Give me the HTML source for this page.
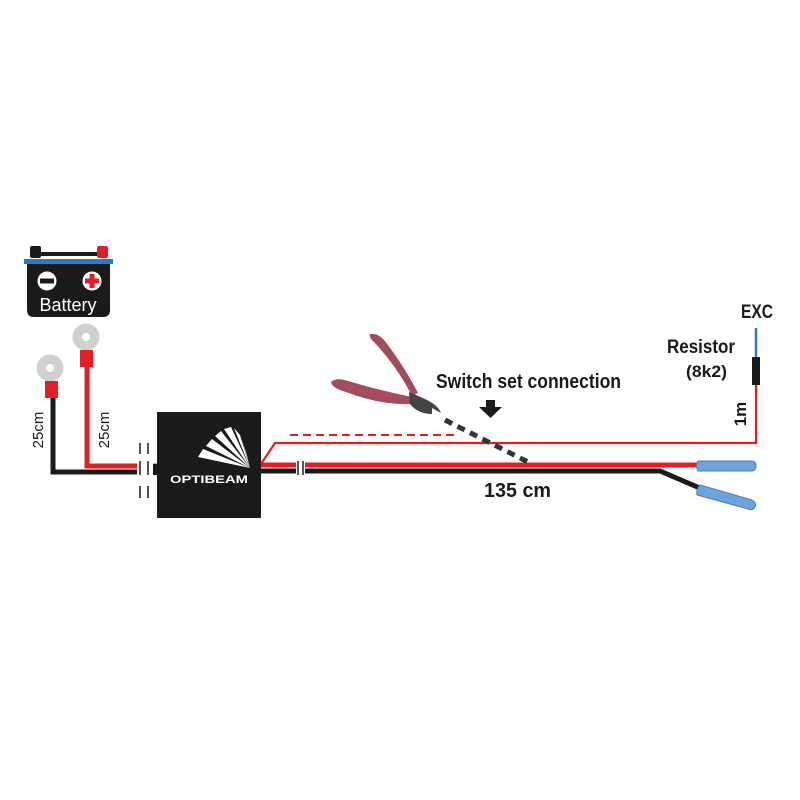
<!DOCTYPE html>
<html><head><meta charset="utf-8"><style>
html,body{margin:0;padding:0;background:#fff;width:800px;height:800px;overflow:hidden}
svg{display:block}
.n{font-family:"Liberation Sans",sans-serif;font-weight:bold;fill:#1a1a1a}
</style></head><body>
<svg width="800" height="800" viewBox="0 0 800 800">
<!-- Battery -->
<rect x="30" y="246" width="11" height="12" rx="2" fill="#1a1a1a"/>
<rect x="97" y="246" width="11" height="12" rx="2" fill="#e31e24"/>
<rect x="41" y="252" width="56" height="4" fill="#1a1a1a"/>
<rect x="24" y="259" width="89" height="5" fill="#2a7bc0"/>
<path d="M27 264 H110 V310 Q110 317 103 317 H34 Q27 317 27 310 Z" fill="#1a1a1a"/>
<circle cx="47" cy="281" r="9.5" fill="#fff"/><rect x="40" y="278.5" width="14" height="5" fill="#1a1a1a"/>
<circle cx="92" cy="281" r="9.5" fill="#fff"/><rect x="85" y="278.5" width="14" height="5" fill="#e31e24"/><rect x="89.5" y="274" width="5" height="14" fill="#e31e24"/>
<text x="68" y="311" text-anchor="middle" font-family="Liberation Sans,sans-serif" font-size="18" fill="#fff">Battery</text>
<!-- ring terminals -->
<circle cx="50" cy="368" r="13.5" fill="#d0d0d0"/><circle cx="50" cy="368" r="4" fill="#fff"/>
<rect x="45" y="381" width="13" height="17" fill="#e31e24"/>
<circle cx="86" cy="337" r="13.5" fill="#d0d0d0"/><circle cx="86" cy="337" r="4" fill="#fff"/>
<rect x="80" y="350" width="13" height="17" fill="#e31e24"/>
<!-- left wires -->
<path d="M53 398 V472 H140" stroke="#1a1a1a" stroke-width="5" fill="none"/>
<path d="M87 367 V466 H157" stroke="#e31e24" stroke-width="5" fill="none"/>
<rect x="148" y="464" width="9" height="11" fill="#1a1a1a"/>
<rect x="137" y="440" width="16" height="63" fill="#fff"/>
<g fill="#555"><rect x="139" y="443" width="2" height="11"/><rect x="147" y="443" width="2" height="11"/>
<rect x="139" y="461" width="2" height="14"/><rect x="147" y="461" width="2" height="14"/>
<rect x="139" y="486" width="2" height="12"/><rect x="147" y="486" width="2" height="12"/></g>
<!-- box -->
<rect x="157" y="412" width="104" height="106" fill="#1a1a1a"/>
<g fill="#fff">
<polygon points="250,468 198,457 203,449"/><polygon points="250,468 206,446 212,439"/>
<polygon points="250,468 215,436 221,431"/><polygon points="250,468 224,429 231,427"/>
<polygon points="250,468 234,428 240,435"/><polygon points="250,468 242,440 246,452"/>
</g>
<text x="209" y="483" text-anchor="middle" font-family="Liberation Sans,sans-serif" font-weight="bold" font-size="11" fill="#fff" textLength="78" lengthAdjust="spacingAndGlyphs">OPTIBEAM</text>
<!-- right wires -->
<path d="M261 464 L275 443 H756 V385" stroke="#e31e24" stroke-width="2.2" fill="none"/>
<line x1="290" y1="435" x2="455" y2="435" stroke="#e31e24" stroke-width="2" stroke-dasharray="8,5"/>
<line x1="261" y1="465" x2="702" y2="465" stroke="#e31e24" stroke-width="5"/>
<path d="M261 471 H660 L702 489" stroke="#1a1a1a" stroke-width="5" fill="none"/>
<rect x="296" y="458" width="9" height="19" fill="#fff"/>
<rect x="297" y="461" width="2" height="14" fill="#555"/><rect x="302" y="461" width="2" height="14" fill="#555"/>
<!-- connectors -->
<g fill="#6fa3dc" stroke="#4a7fc0" stroke-width="1">
<path d="M698 461 H752 Q756 461 756 466 Q756 471 752 471 H698 Q695 466 698 461 Z"/>
<path d="M700 485 L752 500 Q757 503 755 507 Q753 511 748 509 L697 495 Q696 489 700 485 Z"/>
</g>
<!-- resistor -->
<line x1="756" y1="328" x2="756" y2="360" stroke="#2a7bc0" stroke-width="2.5"/>
<rect x="752" y="357" width="8" height="28" fill="#1a1a1a"/>
<!-- dashed cut line -->
<line x1="445" y1="420" x2="528" y2="462" stroke="#333" stroke-width="5" stroke-dasharray="8,6"/>
<!-- arrow -->
<polygon points="486,400 495,400 495,407 502,407 490.5,418 479,407 486,407" fill="#1a1a1a"/>
<!-- pliers -->
<path d="M370 334 Q378 333 384 340 Q403 364 418 393 L412 396 Q398 368 374 342 Q369 338 370 334 Z" fill="#a34c5c"/>
<path d="M331 382 Q336 377 348 381 Q378 390 412 397 L410 404 Q380 405 346 392 Q332 388 331 382 Z" fill="#a34c5c"/>
<path d="M409 392 L425 399 Q438 405 441 413 L432 408 L432 414 Q418 414 410 404 Z" fill="#444"/>
<!-- texts -->
<text x="436" y="388" class="n" font-size="20" textLength="185" lengthAdjust="spacingAndGlyphs">Switch set connection</text>
<text x="484" y="497" class="n" font-size="20" textLength="67" lengthAdjust="spacingAndGlyphs">135 cm</text>
<text x="741" y="318" class="n" font-size="19" textLength="32" lengthAdjust="spacingAndGlyphs">EXC</text>
<text x="667" y="353" class="n" font-size="19" textLength="68" lengthAdjust="spacingAndGlyphs">Resistor</text>
<text x="686" y="377" class="n" font-size="17" textLength="41" lengthAdjust="spacingAndGlyphs">(8k2)</text>
<text transform="translate(746,414) rotate(-90)" class="n" font-size="17" text-anchor="middle">1m</text>
<text transform="translate(43,430) rotate(-90)" font-family="Liberation Sans,sans-serif" font-size="15" fill="#1a1a1a" text-anchor="middle">25cm</text>
<text transform="translate(109,430) rotate(-90)" font-family="Liberation Sans,sans-serif" font-size="15" fill="#1a1a1a" text-anchor="middle">25cm</text>
</svg>
</body></html>
